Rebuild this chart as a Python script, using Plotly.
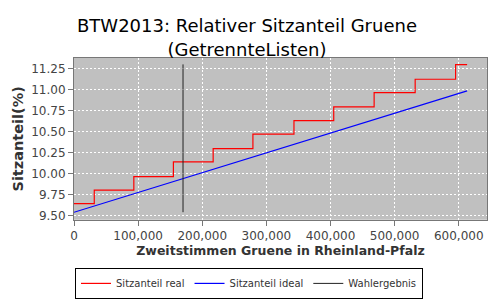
import plotly.graph_objects as go

# Data
real_x = [0, 31600, 93300, 155000, 217000, 279000, 343000, 405000, 468000, 532000, 595000, 613000]
real_y = [9.642, 9.803, 9.964, 10.14, 10.297, 10.469, 10.63, 10.794, 10.963, 11.123, 11.296, 11.296]
ideal_x = [0, 613000]
ideal_y = [9.539, 10.985]
wahl_x = [170000, 170000]
wahl_y = [9.54, 11.30]

x_ticks = [0, 100000, 200000, 300000, 400000, 500000, 600000]
x_labels = ["0", "100,000", "200,000", "300,000", "400,000", "500,000", "600,000"]
y_ticks = [9.50, 9.75, 10.00, 10.25, 10.50, 10.75, 11.00, 11.25]
y_labels = ["9.50", "9.75", "10.00", "10.25", "10.50", "10.75", "11.00", "11.25"]

FONT = "DejaVu Sans"

fig = go.Figure()
fig.add_trace(go.Scatter(x=real_x, y=real_y, mode="lines", line_shape="hv",
                         line=dict(color="#FF0000", width=1.2), name="Sitzanteil real"))
fig.add_trace(go.Scatter(x=ideal_x, y=ideal_y, mode="lines",
                         line=dict(color="#0000FF", width=1.2), name="Sitzanteil ideal"))
fig.add_trace(go.Scatter(x=wahl_x, y=wahl_y, mode="lines",
                         line=dict(color="#222222", width=1), name="Wahlergebnis"))

fig.update_layout(
    width=500, height=300,
    margin=dict(l=74, r=12, t=58, b=72),
    paper_bgcolor="white", plot_bgcolor="#C0C0C0",
    font=dict(family=FONT, color="#444444"),
    title=dict(text="BTW2013: Relativer Sitzanteil Gruene<br>(GetrennteListen)",
               x=0.494, xanchor="center", y=0.893, yanchor="middle",
               font=dict(family=FONT, size=18, color="#000000")),
    showlegend=True,
    legend=dict(orientation="h", xref="container", yref="container",
                x=0.498, xanchor="center", y=0.107, yanchor="top",
                bordercolor="#000000", borderwidth=1,
                font=dict(family=FONT, size=10, color="#333333"),
                itemwidth=30, tracegroupgap=0),
    xaxis=dict(range=[0, 644000], tickvals=x_ticks, ticktext=x_labels,
               showgrid=True, gridcolor="#FFFFFF", griddash="2px,2px", gridwidth=1,
               zeroline=False, showline=True, linecolor="#777777", mirror=True,
               ticks="outside", ticklen=5, tickcolor="#777777",
               tickfont=dict(size=12, color="#444444"),
               title=dict(text="<b>Zweitstimmen Gruene in Rheinland-Pfalz</b>",
                          font=dict(size=12.5, color="#333333"), standoff=4)),
    yaxis=dict(range=[9.45, 11.376], tickvals=y_ticks, ticktext=y_labels,
               showgrid=True, gridcolor="#FFFFFF", griddash="2px,2px", gridwidth=1,
               zeroline=False, showline=True, linecolor="#777777", mirror=True,
               ticks="outside", ticklen=5, tickcolor="#777777",
               tickfont=dict(size=12, color="#444444"),
               title=dict(text="<b>Sitzanteil(%)</b>",
                          font=dict(size=14.5, color="#333333"), standoff=4)),
)

fig.write_html("out.html")
